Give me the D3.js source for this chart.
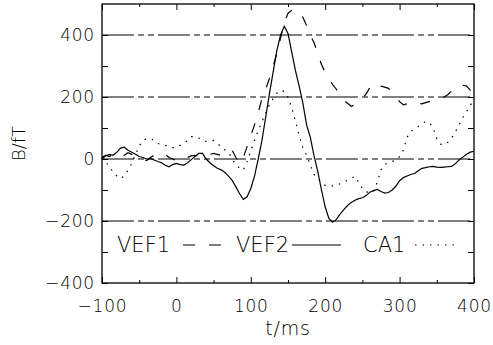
<!DOCTYPE html>
<html>
<head>
<meta charset="utf-8">
<script src="https://cdn.jsdelivr.net/npm/d3@7"></script>
<style>
  body { margin: 0; background: #fff; }
  svg text { font-family: "DejaVu Sans", sans-serif; font-weight: 200; fill: #000; }
</style>
</head>
<body>
<script>
// data, time in ms, field in fT
const times = [-100,-95,-90,-85,-80,-75,-70,-65,-60,-55,-50,-45,-40,-35,-30,-25,-20,-15,-10,-5,
  0,5,10,15,20,25,30,35,40,45,50,55,60,65,70,75,80,85,90,95,
  100,105,110,115,120,125,130,135,140,145,150,155,160,165,170,175,180,185,190,195,
  200,205,210,215,220,225,230,235,240,245,250,255,260,265,270,275,280,285,290,295,
  300,305,310,315,320,325,330,335,340,345,350,355,360,365,370,375,380,385,390,395,400]

const vef1 = [5,12,8,15,10,5,12,20,15,10,5,0,-5,5,12,18,20,15,5,0,
  -5,-8,-2,5,10,12,8,5,10,15,18,15,12,22,27,28,5,-15,5,40,
  75,110,150,195,225,260,300,340,390,440,470,480,483,475,457,430,400,375,340,305,
  280,260,240,225,205,190,180,170,175,185,195,210,230,245,240,235,232,228,215,200,
  185,175,178,182,183,180,178,182,185,190,192,195,200,208,220,232,240,238,235,222,212]

const vef2 = [0,10,15,12,22,35,38,28,22,15,8,5,0,2,-3,-8,-12,-20,-25,-18,
  -14,-18,-20,-12,-2,8,18,18,0,-12,-22,-30,-35,-43,-55,-69,-90,-112,-130,-122,
  -95,-55,0,60,135,210,280,350,400,428,405,345,285,235,180,110,70,10,-40,-100,
  -155,-192,-204,-195,-178,-163,-150,-140,-133,-128,-125,-118,-107,-102,-98,-105,-110,-108,-100,-88,
  -70,-60,-55,-50,-47,-38,-30,-28,-25,-24,-26,-27,-26,-25,-24,-15,-3,6,15,22,25]

const ca1 = [5,-10,-25,-42,-55,-63,-55,-36,-14,15,42,60,65,66,60,50,46,44,40,37,
  37,44,50,60,72,72,68,60,57,58,60,50,40,30,22,0,-18,-30,-36,-8,
  25,60,92,120,148,175,195,212,222,218,199,165,122,75,37,12,-20,-50,-63,-75,
  -85,-87,-87,-85,-80,-75,-68,-62,-56,-75,-95,-106,-108,-105,-75,-35,-18,-12,-8,-4,
  8,28,70,88,98,105,115,120,118,100,66,48,46,54,68,88,110,134,152,175,185]

const xTicks = [-100, 0, 100, 200, 300, 400]
const xMinor = [-50, 50, 150, 250, 350]
const yTicks = [-400, -200, 0, 200, 400]
const yMinor = [-300, -100, 100, 300]
const gridValues = [400, 200, 0, -200]
const legendNames = ['VEF1', 'VEF2', 'CA1']

let width = 493
let height = 345
let pLeft = 102, pRight = 474, pTop = 4, pBottom = 283

let svg = d3.select('body').append('svg')
  .attr('width', width)
  .attr('height', height)

//scales
let xScale = d3.scaleLinear().domain([-100, 400]).range([pLeft, pRight])
let yScale = d3.scaleLinear().domain([-400, 500]).range([pBottom, pTop])

let fmt = d => d < 0 ? '\u2212' + Math.abs(d) : String(d)

// grid lines
svg.selectAll('.grid')
  .data(gridValues)
  .enter()
  .append('line')
  .attr('x1', pLeft)
  .attr('x2', pRight)
  .attr('y1', d => yScale(d))
  .attr('y2', d => yScale(d))
  .attr('stroke', '#555')
  .attr('stroke-width', 1.6)
  .attr('stroke-dasharray', '32,4,6,4,6,4')

// axes (ticks pointing inward)
svg.append('g').attr('transform', `translate(0,${pBottom})`)
  .call(d3.axisBottom(xScale).tickValues(xTicks).tickSizeInner(-6).tickSizeOuter(0).tickPadding(17).tickFormat(fmt))
svg.append('g').attr('transform', `translate(0,${pBottom})`)
  .call(d3.axisBottom(xScale).tickValues(xMinor).tickSizeInner(-3).tickSizeOuter(0).tickFormat(''))
svg.append('g').attr('transform', `translate(0,${pTop})`)
  .call(d3.axisTop(xScale).tickValues(xTicks).tickSizeInner(-6).tickSizeOuter(0).tickFormat(''))
svg.append('g').attr('transform', `translate(0,${pTop})`)
  .call(d3.axisTop(xScale).tickValues(xMinor).tickSizeInner(-3).tickSizeOuter(0).tickFormat(''))
svg.append('g').attr('transform', `translate(${pLeft},0)`)
  .call(d3.axisLeft(yScale).tickValues(yTicks).tickSizeInner(-6).tickSizeOuter(0).tickPadding(7).tickFormat(fmt))
svg.append('g').attr('transform', `translate(${pLeft},0)`)
  .call(d3.axisLeft(yScale).tickValues(yMinor).tickSizeInner(-6).tickSizeOuter(0).tickFormat(''))
svg.append('g').attr('transform', `translate(${pRight},0)`)
  .call(d3.axisRight(yScale).tickValues(yTicks.concat(yMinor)).tickSizeInner(-6).tickSizeOuter(0).tickFormat(''))

svg.selectAll('.domain').remove()
svg.selectAll('.tick line').attr('stroke', '#000').attr('stroke-width', 1)
svg.selectAll('.tick text')
  .style('font-family', '"DejaVu Sans", sans-serif')
  .style('font-weight', 200)
  .style('font-size', '17px')
  .style('letter-spacing', '0.8px')
  .attr('fill', '#000')

// frame
svg.append('rect')
  .attr('x', pLeft)
  .attr('y', pTop)
  .attr('width', pRight - pLeft)
  .attr('height', pBottom - pTop)
  .attr('fill', 'none')
  .attr('stroke', '#000')
  .attr('stroke-width', 1.3)

// curves
let line = d3.line()
  .x((d, i) => xScale(times[i]))
  .y(d => yScale(d))

let series = [
  { values: vef1, dash: '10,14', legDash: '12,14' },
  { values: vef2, dash: null, legDash: null },
  { values: ca1, dash: '1.5,6', legDash: '1.5,6' }
]

svg.selectAll('.curve')
  .data(series)
  .enter()
  .append('path')
  .attr('d', d => line(d.values))
  .attr('fill', 'none')
  .attr('stroke', '#000')
  .attr('stroke-width', 1.2)
  .attr('stroke-dasharray', d => d.dash)

// legend
let legendY = 245
let legendText = [117, 236, 363]
let legendLine = [[183, 223], [292, 341], [415, 455]]
svg.selectAll('.legtext')
  .data(legendNames)
  .enter()
  .append('text')
  .attr('x', (d, i) => legendText[i])
  .attr('y', 252)
  .style('font-size', '21px')
  .text(d => d)
svg.selectAll('.legline')
  .data(series)
  .enter()
  .append('line')
  .attr('x1', (d, i) => legendLine[i][0])
  .attr('x2', (d, i) => legendLine[i][1])
  .attr('y1', legendY)
  .attr('y2', legendY)
  .attr('stroke', '#000')
  .attr('stroke-width', 1.2)
  .attr('stroke-dasharray', d => d.legDash)

// axis titles
svg.append('text')
  .attr('x', 288)
  .attr('y', 335)
  .attr('text-anchor', 'middle')
  .style('font-size', '19px')
  .style('letter-spacing', '0.8px')
  .text('t/ms')

svg.append('text')
  .attr('transform', `translate(25,${(pTop + pBottom) / 2}) rotate(-90)`)
  .attr('text-anchor', 'middle')
  .style('font-size', '18px')
  .text('B/fT')
</script>
</body>
</html>
